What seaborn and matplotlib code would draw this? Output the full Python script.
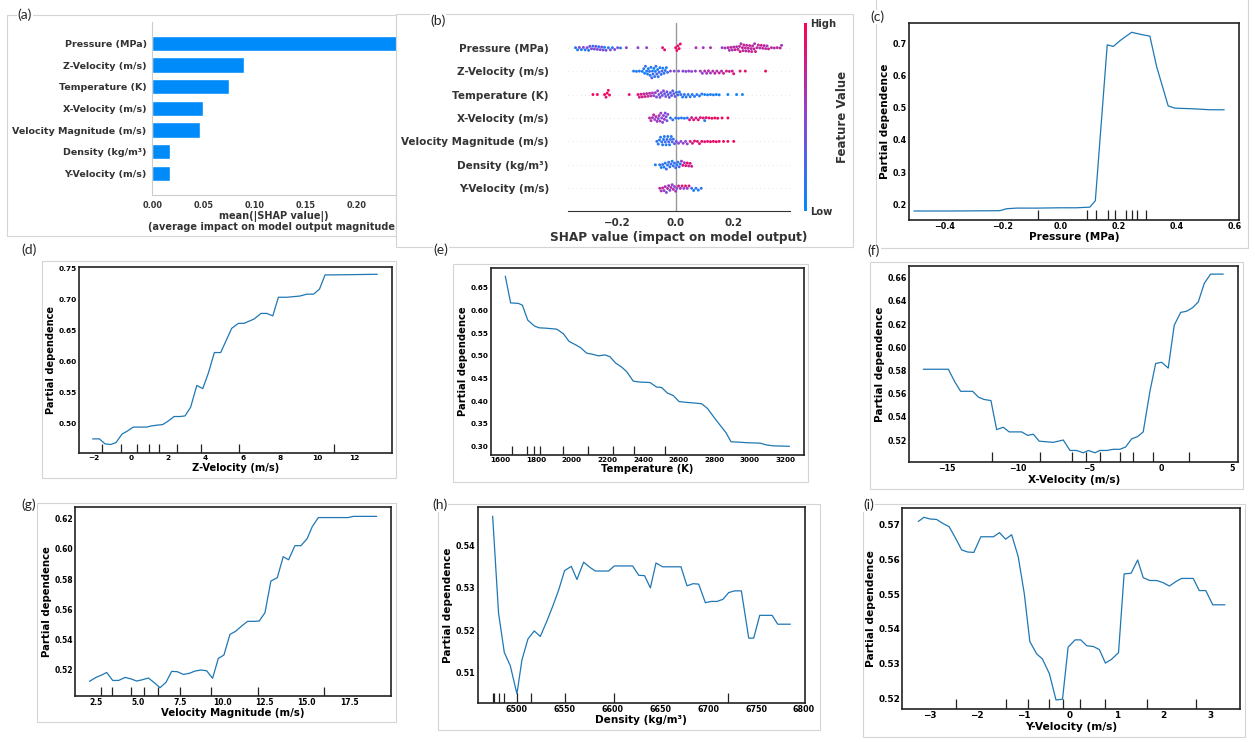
import pandas as pd
import matplotlib
matplotlib.use("Agg")
import matplotlib.pyplot as plt
import seaborn as sns
from matplotlib.colors import LinearSegmentedColormap, Normalize
from matplotlib.cm import ScalarMappable
from matplotlib.patches import Rectangle
from matplotlib.transforms import Bbox, TransformedBbox

#########################################################################
#   data
#########################################################################
features = ["Pressure (MPa)", "Z-Velocity (m/s)", "Temperature (K)", "X-Velocity (m/s)",
            "Velocity Magnitude (m/s)", "Density (kg/m³)", "Y-Velocity (m/s)"]
mean_abs_shap = [0.25, 0.090, 0.075, 0.050, 0.047, 0.0176, 0.017]

# beeswarm points: (shap value, normalised feature value)
pressure_pts = [(-0.345, 0.15), (-0.338, 0.1), (-0.332, 0.45), (-0.325, 0.1), (-0.318, 0.5), (-0.312, 0.15),
                (-0.305, 0.45), (-0.3, 0.1), (-0.296, 0.4), (-0.29, 0.5), (-0.285, 0.15), (-0.28, 0.45),
                (-0.275, 0.5), (-0.27, 0.4), (-0.265, 0.1), (-0.26, 0.45), (-0.255, 0.5), (-0.25, 0.45),
                (-0.245, 0.1), (-0.24, 0.4), (-0.232, 0.15), (-0.225, 0.45), (-0.218, 0.1), (-0.21, 0.5),
                (-0.2, 0.45), (-0.19, 0.15), (-0.17, 0.55), (-0.13, 0.5), (-0.1, 0.55), (-0.045, 0.85),
                (-0.038, 0.9), (0.0, 0.95), (0.004, 0.9), (0.008, 0.85), (0.012, 0.95), (0.016, 0.9),
                (0.07, 0.65), (0.095, 0.6), (0.12, 0.65), (0.16, 0.55), (0.17, 0.6), (0.18, 0.7),
                (0.185, 0.65), (0.19, 0.75), (0.195, 0.6), (0.2, 0.7), (0.205, 0.8), (0.21, 0.65),
                (0.215, 0.75), (0.22, 0.7), (0.222, 0.8), (0.225, 0.6), (0.23, 0.75), (0.232, 0.7),
                (0.235, 0.85), (0.24, 0.65), (0.242, 0.75), (0.245, 0.7), (0.25, 0.8), (0.252, 0.7),
                (0.255, 0.75), (0.26, 0.65), (0.262, 0.8), (0.265, 0.7), (0.27, 0.75), (0.272, 0.6),
                (0.275, 0.8), (0.28, 0.7), (0.285, 0.75), (0.29, 0.65), (0.295, 0.8), (0.3, 0.7),
                (0.305, 0.75), (0.31, 0.7), (0.315, 0.6), (0.32, 0.8), (0.33, 0.7), (0.34, 0.65),
                (0.35, 0.75), (0.36, 0.7), (0.365, 0.6)]
zvel_pts = [(-0.145, 0.1), (-0.135, 0.15), (-0.125, 0.1), (-0.115, 0.1), (-0.11, 0.15), (-0.107, 0.05),
            (-0.104, 0.2), (-0.1, 0.1), (-0.097, 0.15), (-0.094, 0.05), (-0.09, 0.2), (-0.088, 0.1),
            (-0.085, 0.15), (-0.082, 0.35), (-0.08, 0.1), (-0.078, 0.2), (-0.075, 0.05), (-0.072, 0.15),
            (-0.07, 0.1), (-0.068, 0.2), (-0.065, 0.35), (-0.062, 0.1), (-0.06, 0.15), (-0.057, 0.2),
            (-0.054, 0.1), (-0.05, 0.15), (-0.047, 0.3), (-0.044, 0.1), (-0.04, 0.2), (-0.036, 0.15),
            (-0.032, 0.1), (-0.028, 0.2), (-0.018, 0.45), (-0.005, 0.4), (0.01, 0.5), (0.025, 0.45),
            (0.035, 0.5), (0.045, 0.55), (0.055, 0.5), (0.068, 0.55), (0.085, 0.6), (0.092, 0.55),
            (0.1, 0.65), (0.107, 0.6), (0.113, 0.7), (0.12, 0.6), (0.128, 0.65), (0.135, 0.7),
            (0.142, 0.65), (0.15, 0.75), (0.158, 0.7), (0.165, 0.75), (0.175, 0.8), (0.185, 0.75),
            (0.195, 0.8), (0.2, 0.85), (0.222, 0.9), (0.24, 0.9), (0.31, 0.95)]
temp_pts = [(-0.285, 0.95), (-0.27, 0.95), (-0.245, 0.95), (-0.24, 0.9), (-0.236, 0.95), (-0.232, 0.9),
            (-0.228, 0.95), (-0.16, 0.85), (-0.13, 0.85), (-0.125, 0.8), (-0.12, 0.85), (-0.115, 0.8),
            (-0.11, 0.75), (-0.105, 0.8), (-0.1, 0.7), (-0.095, 0.75), (-0.09, 0.7), (-0.085, 0.65),
            (-0.08, 0.6), (-0.075, 0.5), (-0.07, 0.55), (-0.066, 0.45), (-0.062, 0.5), (-0.058, 0.4),
            (-0.054, 0.45), (-0.05, 0.5), (-0.046, 0.4), (-0.042, 0.45), (-0.038, 0.35), (-0.034, 0.4),
            (-0.03, 0.45), (-0.026, 0.35), (-0.022, 0.4), (-0.018, 0.3), (-0.014, 0.35), (-0.01, 0.3),
            (-0.006, 0.4), (-0.002, 0.3), (0.003, 0.2), (0.008, 0.25), (0.013, 0.15), (0.018, 0.2),
            (0.024, 0.1), (0.03, 0.2), (0.036, 0.15), (0.043, 0.1), (0.05, 0.2), (0.057, 0.15),
            (0.065, 0.1), (0.073, 0.15), (0.082, 0.1), (0.09, 0.12), (0.1, 0.08), (0.11, 0.1),
            (0.12, 0.08), (0.13, 0.1), (0.14, 0.05), (0.15, 0.08), (0.18, 0.05), (0.21, 0.05), (0.23, 0.05)]
xvel_pts = [(-0.09, 0.7), (-0.085, 0.65), (-0.08, 0.6), (-0.076, 0.7), (-0.072, 0.55), (-0.068, 0.65),
            (-0.064, 0.6), (-0.06, 0.5), (-0.057, 0.65), (-0.054, 0.55), (-0.051, 0.6), (-0.048, 0.45),
            (-0.045, 0.55), (-0.042, 0.5), (-0.039, 0.6), (-0.036, 0.45), (-0.033, 0.5), (-0.03, 0.4),
            (-0.027, 0.45), (-0.018, 0.15), (-0.01, 0.2), (0.0, 0.1), (0.01, 0.2), (0.02, 0.15),
            (0.03, 0.1), (0.04, 0.2), (0.048, 0.85), (0.055, 0.8), (0.062, 0.85), (0.07, 0.8),
            (0.078, 0.85), (0.085, 0.9), (0.095, 0.85), (0.1, 0.15), (0.105, 0.9), (0.115, 0.95),
            (0.125, 0.9), (0.135, 0.95), (0.145, 0.95), (0.16, 0.95), (0.18, 0.95)]
velmag_pts = [(-0.065, 0.15), (-0.06, 0.1), (-0.056, 0.2), (-0.052, 0.1), (-0.048, 0.15), (-0.045, 0.2),
              (-0.042, 0.1), (-0.039, 0.15), (-0.036, 0.25), (-0.033, 0.1), (-0.03, 0.2), (-0.027, 0.15),
              (-0.024, 0.3), (-0.021, 0.1), (-0.018, 0.2), (-0.015, 0.15), (-0.012, 0.25), (-0.008, 0.2),
              (-0.004, 0.3), (0.002, 0.45), (0.01, 0.5), (0.018, 0.45), (0.026, 0.55), (0.034, 0.5),
              (0.04, 0.55), (0.05, 0.85), (0.058, 0.8), (0.065, 0.9), (0.075, 0.85), (0.082, 0.9),
              (0.09, 0.95), (0.1, 0.85), (0.11, 0.9), (0.12, 0.95), (0.13, 0.9), (0.14, 0.95),
              (0.15, 0.9), (0.165, 0.95), (0.18, 0.95), (0.2, 0.95)]
density_pts = [(-0.07, 0.1), (-0.055, 0.15), (-0.05, 0.1), (-0.045, 0.2), (-0.04, 0.1), (-0.036, 0.15),
               (-0.032, 0.25), (-0.028, 0.1), (-0.024, 0.2), (-0.02, 0.15), (-0.016, 0.3), (-0.012, 0.1),
               (-0.008, 0.2), (-0.004, 0.15), (0.0, 0.25), (0.004, 0.1), (0.008, 0.2), (0.012, 0.3),
               (0.016, 0.15), (0.02, 0.55), (0.025, 0.9), (0.03, 0.6), (0.035, 0.85), (0.04, 0.9),
               (0.045, 0.7), (0.05, 0.85), (0.055, 0.8)]
yvel_pts = [(-0.055, 0.7), (-0.05, 0.6), (-0.045, 0.75), (-0.04, 0.55), (-0.036, 0.65), (-0.032, 0.5),
            (-0.028, 0.7), (-0.024, 0.6), (-0.02, 0.45), (-0.016, 0.65), (-0.012, 0.55), (-0.008, 0.7),
            (-0.004, 0.5), (0.0, 0.6), (0.004, 0.45), (0.01, 0.8), (0.016, 0.6), (0.022, 0.85),
            (0.028, 0.5), (0.034, 0.9), (0.04, 0.55), (0.046, 0.8), (0.055, 0.15), (0.062, 0.1),
            (0.07, 0.2), (0.078, 0.1), (0.088, 0.15)]
shap_points = [pressure_pts, zvel_pts, temp_pts, xvel_pts, velmag_pts, density_pts, yvel_pts]

# partial dependence curves + decile rug
c_x = [-0.505, -0.370, -0.209, -0.186, -0.152, -0.083, -0.002, 0.055, 0.101, 0.120, 0.161,
       0.182, 0.205, 0.245, 0.279, 0.308, 0.331, 0.371, 0.394, 0.457, 0.515, 0.564]
c_y = [0.179, 0.179, 0.180, 0.186, 0.188, 0.188, 0.189, 0.189, 0.191, 0.211, 0.696,
       0.691, 0.709, 0.735, 0.728, 0.723, 0.629, 0.506, 0.499, 0.497, 0.494, 0.494]
c_rug = [-0.079, 0.092, 0.124, 0.162, 0.187, 0.224, 0.245, 0.264, 0.293]

d_x = [-2.04, -1.68, -1.375, -1.07, -0.79, -0.46, -0.21, 0.14, 0.5, 0.86, 1.125, 1.39, 1.71,
       2.02, 2.32, 2.64, 2.91, 3.21, 3.54, 3.86, 4.16, 4.48, 4.82, 5.41, 5.77, 6.07, 6.61,
       6.98, 7.29, 7.61, 7.91, 8.36, 9.07, 9.43, 9.79, 10.11, 10.41, 10.86, 13.21]
d_y = [0.476, 0.476, 0.468, 0.467, 0.470, 0.484, 0.488, 0.495, 0.495, 0.495, 0.497, 0.498, 0.499,
       0.505, 0.512, 0.512, 0.513, 0.527, 0.562, 0.557, 0.582, 0.615, 0.615, 0.654, 0.662, 0.662, 0.669,
       0.678, 0.678, 0.674, 0.704, 0.704, 0.706, 0.709, 0.709, 0.717, 0.740, 0.740, 0.741]
d_rug = [-1.52, -0.52, 0.32, 0.98, 1.52, 2.5, 3.79, 5.82, 10.91]

e_x = [1626, 1656, 1699, 1722, 1752, 1789, 1815, 1858, 1915, 1952, 1984, 2018, 2049, 2083, 2121,
       2149, 2186, 2214, 2246, 2280, 2308, 2345, 2383, 2439, 2476, 2504, 2536, 2570, 2602, 2645,
       2682, 2729, 2761, 2795, 2832, 2866, 2894, 2945, 2982, 3057, 3094, 3132, 3222]
e_y = [0.676, 0.617, 0.616, 0.612, 0.579, 0.566, 0.562, 0.561, 0.559, 0.549, 0.532, 0.525, 0.518,
       0.506, 0.503, 0.500, 0.502, 0.498, 0.484, 0.475, 0.465, 0.444, 0.442, 0.441, 0.431, 0.430,
       0.418, 0.412, 0.399, 0.397, 0.396, 0.394, 0.384, 0.366, 0.347, 0.330, 0.310, 0.309, 0.308,
       0.307, 0.303, 0.301, 0.300]
e_rug = [1662, 1750, 1789, 1821, 1948, 2093, 2233, 2351, 2523]

f_x = [-16.62, -14.87, -14.41, -14.01, -13.17, -12.77, -12.38, -11.89, -11.49, -11.03, -10.61,
       -9.74, -9.32, -8.93, -8.51, -7.53, -6.83, -6.36, -5.90, -5.43, -5.08, -4.62, -4.27, -3.80,
       -3.33, -2.87, -2.47, -2.05, -1.63, -1.24, -0.77, -0.37, 0.05, 0.51, 0.93, 1.38, 1.79, 2.21,
       2.61, 3.03, 3.47, 4.36]
f_y = [0.581, 0.581, 0.570, 0.562, 0.562, 0.557, 0.555, 0.554, 0.529, 0.531, 0.527, 0.527, 0.524,
       0.525, 0.519, 0.518, 0.520, 0.511, 0.511, 0.509, 0.511, 0.509, 0.511, 0.511, 0.512, 0.512,
       0.514, 0.521, 0.523, 0.527, 0.562, 0.586, 0.587, 0.582, 0.619, 0.630, 0.631, 0.634, 0.639,
       0.655, 0.663, 0.663]
f_rug = [-11.84, -8.46, -6.20, -5.27, -4.27, -2.87, -1.93, -0.58, 1.96]

g_x = [2.13, 2.52, 2.86, 3.15, 3.51, 3.86, 4.24, 4.57, 4.93, 5.28, 5.62, 5.95, 6.31, 6.66, 7.0,
       7.33, 7.69, 8.04, 8.38, 8.73, 9.07, 9.42, 9.76, 10.09, 10.45, 10.78, 11.14, 11.49, 11.83,
       12.18, 12.52, 12.87, 13.25, 13.60, 13.92, 14.29, 14.65, 15.02, 15.32, 15.68, 16.17, 17.45,
       17.75, 19.13]
g_y = [0.5123, 0.5149, 0.5165, 0.5182, 0.5129, 0.5129, 0.5149, 0.5140, 0.5125, 0.5134, 0.5145,
       0.5116, 0.5081, 0.5116, 0.5189, 0.5187, 0.5169, 0.5176, 0.5191, 0.5198, 0.5193, 0.5143,
       0.5275, 0.5297, 0.5434, 0.5454, 0.5489, 0.5520, 0.5520, 0.5522, 0.5577, 0.5787, 0.5809,
       0.5948, 0.5928, 0.6021, 0.6021, 0.6068, 0.6147, 0.6207, 0.6207, 0.6207, 0.6215, 0.6215]
g_rug = [2.80, 3.49, 4.57, 5.36, 6.21, 7.47, 9.32, 12.13, 16.03]

h_x = [6474.6, 6480.8, 6486.8, 6493.0, 6500.0, 6505.2, 6511.5, 6518.1, 6524.4, 6531.4, 6537.3,
       6543.6, 6549.8, 6556.8, 6562.7, 6569.7, 6576.7, 6581.9, 6588.9, 6595.8, 6601.7, 6608.0,
       6615.0, 6620.9, 6627.2, 6633.4, 6639.4, 6645.3, 6652.3, 6658.5, 6665.5, 6671.4, 6677.7,
       6684.0, 6689.9, 6696.9, 6703.1, 6709.1, 6715.3, 6721.3, 6727.5, 6734.5, 6742.2, 6747.4,
       6753.7, 6760.3, 6766.6, 6772.5, 6785.7]
h_y = [0.5470, 0.5240, 0.5147, 0.5116, 0.5049, 0.5129, 0.5179, 0.5198, 0.5185, 0.5222, 0.5256,
       0.5295, 0.5341, 0.5351, 0.5320, 0.5361, 0.5348, 0.5340, 0.5340, 0.5340, 0.5352, 0.5352,
       0.5352, 0.5352, 0.5330, 0.5329, 0.5300, 0.5359, 0.5350, 0.5350, 0.5350, 0.5350, 0.5305,
       0.5310, 0.5309, 0.5265, 0.5268, 0.5268, 0.5273, 0.5289, 0.5293, 0.5293, 0.5181, 0.5181,
       0.5235, 0.5235, 0.5235, 0.5214, 0.5214]
h_rug = [6474.6, 6476.5, 6481.5, 6486.8, 6500.0, 6515.0, 6549.8, 6601.7, 6720.6]

i_x = [-3.25, -3.13, -2.99, -2.86, -2.73, -2.59, -2.46, -2.32, -2.19, -2.06, -1.91, -1.79, -1.64,
       -1.51, -1.38, -1.25, -1.11, -0.98, -0.86, -0.71, -0.59, -0.44, -0.30, -0.16, -0.04, 0.11,
       0.23, 0.36, 0.50, 0.63, 0.76, 0.89, 1.04, 1.16, 1.31, 1.45, 1.57, 1.71, 1.86, 1.99, 2.13,
       2.27, 2.39, 2.54, 2.64, 2.77, 2.91, 3.06, 3.32]
i_y = [0.5709, 0.5721, 0.5716, 0.5715, 0.5704, 0.5694, 0.5663, 0.5627, 0.5621, 0.5620, 0.5665,
       0.5665, 0.5665, 0.5677, 0.5658, 0.5671, 0.5608, 0.5502, 0.5363, 0.5327, 0.5313, 0.5270,
       0.5195, 0.5197, 0.5347, 0.5368, 0.5368, 0.5351, 0.5349, 0.5340, 0.5301, 0.5312, 0.5331,
       0.5558, 0.5560, 0.5598, 0.5547, 0.5539, 0.5539, 0.5533, 0.5523, 0.5536, 0.5545, 0.5545,
       0.5545, 0.5510, 0.5510, 0.5469, 0.5469]
i_rug = [-2.44, -1.38, -0.89, -0.46, -0.14, 0.21, 0.76, 1.66, 2.71]

#########################################################################
#   figure set-up
#########################################################################
sns.set_style("white")
plt.rcParams["font.family"] = ["DejaVu Sans"]
plt.rcParams["font.weight"] = "bold"
plt.rcParams["axes.labelweight"] = "bold"

W, H = 1255, 742
fig = plt.figure(figsize=(W / 100, H / 100), dpi=100)
shap_cmap = LinearSegmentedColormap.from_list("shap", ["#008bfc", "#8a45d8", "#ff0051"])


def px_axes(x0, y0, x1, y1):
    return fig.add_axes([x0 / W, 1 - y1 / H, (x1 - x0) / W, (y1 - y0) / H])


def frame(x0, y0, x1, y1):
    fig.add_artist(Rectangle((x0 / W, 1 - y1 / H), (x1 - x0) / W, (y1 - y0) / H,
                             transform=fig.transFigure, fill=False, ec="#d4d4d4", lw=0.8))


def panel_label(x, y, s):
    fig.text(x / W, 1 - y / H, s, ha="center", va="center", fontsize=10, fontweight="normal",
             family="Lato", bbox=dict(fc="white", ec="none", pad=0.3), zorder=5)


#########################################################################
#   (a) mean |SHAP| bar chart
#########################################################################
def shap_bar():
    ax = px_axes(152.3, 21.7, 395.7, 195)
    sns.barplot(x=mean_abs_shap, y=features, orient="h", color="#008bfb", saturation=1,
                width=0.7, ax=ax)
    ax.set_xlim(0, 0.238)
    ax.set_ylim(7, -1)
    ax.set_xticks([0, 0.05, 0.10, 0.15, 0.20])
    ax.set_xticklabels(["0.00", "0.05", "0.10", "0.15", "0.20"])
    ax.tick_params(axis="x", labelsize=5.9, length=2, color="#cccccc", pad=2, labelcolor="#333333")
    ax.tick_params(axis="y", labelsize=6.8, length=0, pad=4, labelcolor="#333333")
    sns.despine(ax=ax)
    ax.spines["left"].set_color("#cccccc")
    ax.spines["bottom"].set_color("#cccccc")
    ax.set_ylabel("")
    ax.set_xlabel("mean(|SHAP value|)\n(average impact on model output magnitude)", fontsize=7.0,
                  color="#333333", labelpad=1, linespacing=1.05)
    lbl = ax.xaxis.label
    lbl.set_clip_box(TransformedBbox(Bbox([[0, 0], [396 / W, 1]]), fig.transFigure))
    lbl.set_clip_on(True)


#########################################################################
#   (b) beeswarm summary
#########################################################################
def shap_swarm():
    rows = [(f, s, v) for f, pts in zip(features, shap_points) for s, v in pts]
    swarm_df = pd.DataFrame(rows, columns=["feature", "shap", "value"])

    ax = px_axes(567.7, 23.3, 790, 211)
    for i in range(len(features)):
        ax.axhline(i, color="#cccccc", lw=0.5, dashes=(1, 5), zorder=-1)
    ax.axvline(0, color="#999999", lw=1, zorder=-1)
    sns.swarmplot(data=swarm_df, x="shap", y="feature", hue="value", order=features,
                  palette=shap_cmap, hue_norm=(0, 1), size=2.1, orient="h", legend=False, ax=ax)
    ax.set_xlim(-0.372, 0.394)
    ax.set_ylim(6.97, -1.04)
    ax.set_xticks([-0.2, 0.0, 0.2])
    ax.tick_params(axis="x", labelsize=7.4, length=3, width=0.8, color="#333333", pad=2,
                   labelcolor="#333333")
    ax.tick_params(axis="y", labelsize=7.5, length=0, pad=13.5, labelcolor="#333333")
    sns.despine(ax=ax, left=True)
    ax.spines["bottom"].set_color("#333333")
    ax.spines["bottom"].set_linewidth(0.8)
    ax.set_ylabel("")
    ax.set_xlabel("SHAP value (impact on model output)", fontsize=8.7, color="#333333", labelpad=2)

    cax = px_axes(804.3, 23.3, 807.3, 211)
    cb = fig.colorbar(ScalarMappable(norm=Normalize(0, 1), cmap=shap_cmap), cax=cax, ticks=[0, 1])
    cb.set_ticklabels(["Low", "High"])
    cb.outline.set_visible(False)
    cb.ax.tick_params(length=0, labelsize=7.2, pad=2, labelcolor="#333333")
    cb.set_label("Feature Value", fontsize=8.5, color="#333333", labelpad=0)


#########################################################################
#   (c)-(i) partial dependence panels
#########################################################################
def pdp_panel(box, x, y, rug, xlim, ylim, xticks, yticks, xlabel, fs_tick, fs_lab):
    ax = px_axes(*box)
    sns.lineplot(x=x, y=y, ax=ax, color="#1f77b4", lw=0.9, estimator=None, sort=False)
    ax.vlines(rug, 0, 0.05, transform=ax.get_xaxis_transform(), color="#222222", lw=0.9)
    ax.set_xlim(xlim)
    ax.set_ylim(ylim)
    ax.set_xticks(xticks)
    ax.set_yticks(yticks)
    ax.tick_params(direction="in", length=2, width=0.6, pad=1.5, labelsize=fs_tick * 1.07,
                   colors="black")
    for s in ax.spines.values():
        s.set_color("#222222")
        s.set_linewidth(1.2)
    ax.set_xlabel(xlabel, fontsize=fs_lab * 1.06, labelpad=1, color="black")
    ax.set_ylabel("Partial dependence", fontsize=fs_lab * 1.06, labelpad=2, color="black")


def main():
    frame(7, 15, 396, 236)
    frame(396, 14, 853, 247)
    frame(876, -5, 1248, 248)
    frame(42, 261, 396, 478)
    frame(453, 264, 808, 482)
    frame(870, 262, 1243, 489)
    frame(37, 503, 396, 722)
    frame(438, 504, 820, 730)
    frame(863, 504, 1245, 737)

    shap_bar()
    shap_swarm()

    pdp_panel((909, 23.3, 1239, 220), c_x, c_y, c_rug, (-0.522, 0.615), (0.151, 0.763),
              [-0.4, -0.2, 0.0, 0.2, 0.4, 0.6], [0.2, 0.3, 0.4, 0.5, 0.6, 0.7],
              "Pressure (MPa)", 5.4, 7.1)
    pdp_panel((79, 266.7, 391.7, 453.3), d_x, d_y, d_rug, (-2.77, 13.98), (0.4528, 0.7532),
              [-2, 0, 2, 4, 6, 8, 10, 12], [0.50, 0.55, 0.60, 0.65, 0.70, 0.75],
              "Z-Velocity (m/s)", 5.0, 6.7)
    pdp_panel((490.7, 268.3, 804, 455), e_x, e_y, e_rug, (1544, 3304), (0.2808, 0.6935),
              [1600, 1800, 2000, 2200, 2400, 2600, 2800, 3000, 3200],
              [0.30, 0.35, 0.40, 0.45, 0.50, 0.55, 0.60, 0.65],
              "Temperature (K)", 4.9, 6.8)
    pdp_panel((909, 266, 1238.3, 462.3), f_x, f_y, f_rug, (-17.62, 5.41), (0.5008, 0.670),
              [-15, -10, -5, 0, 5], [0.52, 0.54, 0.56, 0.58, 0.60, 0.62, 0.64, 0.66],
              "X-Velocity (m/s)", 5.3, 7.1)
    pdp_panel((75, 507.3, 391, 696), g_x, g_y, g_rug, (1.277, 19.98), (0.5026, 0.6275),
              [2.5, 5.0, 7.5, 10.0, 12.5, 15.0, 17.5], [0.52, 0.54, 0.56, 0.58, 0.60, 0.62],
              "Velocity Magnitude (m/s)", 5.1, 6.9)
    pdp_panel((477.7, 507.3, 805, 702.7), h_x, h_y, h_rug, (6459, 6801), (0.5028, 0.5491),
              [6500, 6550, 6600, 6650, 6700, 6750, 6800], [0.51, 0.52, 0.53, 0.54],
              "Density (kg/m³)", 5.4, 7.1)
    pdp_panel((902.3, 508.3, 1240, 709.3), i_x, i_y, i_rug, (-3.593, 3.643), (0.5168, 0.5747),
              [-3, -2, -1, 0, 1, 2, 3], [0.52, 0.53, 0.54, 0.55, 0.56, 0.57],
              "Y-Velocity (m/s)", 6.0, 7.2)

    for x, y, s in [(25, 15, "(a)"), (438, 21, "(b)"), (877, 17, "(c)"), (29, 250, "(d)"),
                    (441, 250, "(e)"), (874, 251, "(f)"), (29, 505, "(g)"), (440, 505, "(h)"),
                    (869, 505, "(i)")]:
        panel_label(x, y, s)

    fig.savefig("out.png", dpi=100, facecolor="white")


if __name__ == "__main__":
    main()
